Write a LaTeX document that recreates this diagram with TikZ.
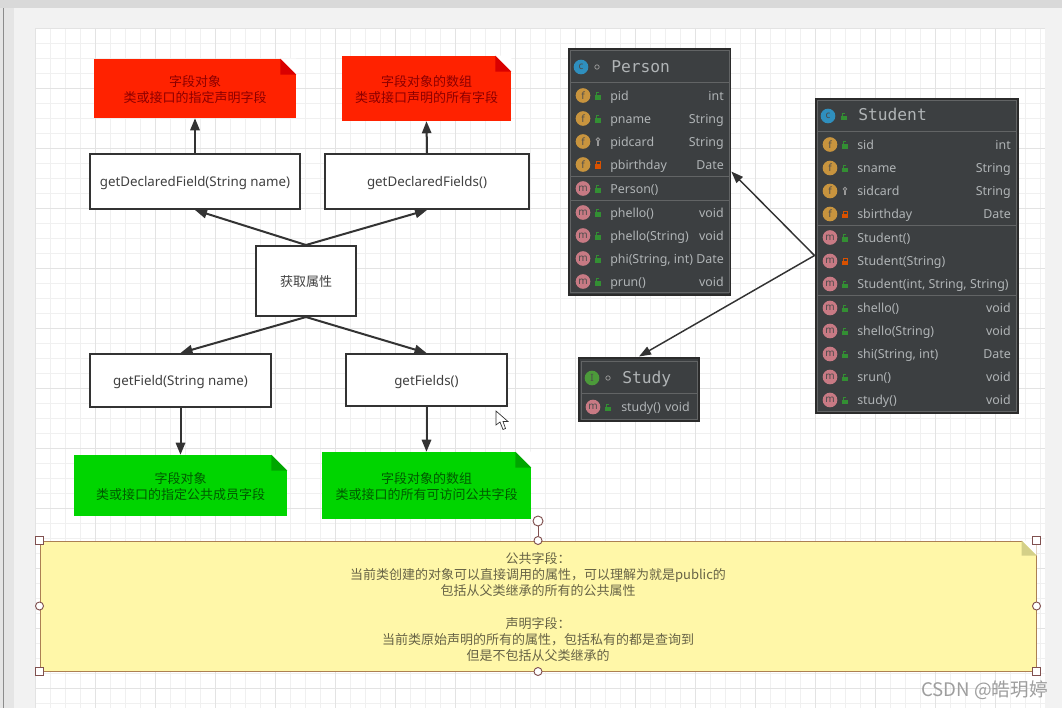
\documentclass[tikz,border=0pt]{standalone}
\usepackage{fontspec}
\setmainfont{Noto Sans}
\newfontfamily\cjk{Noto Sans CJK SC}
\newfontfamily\monotitle{DejaVu Sans Mono}
\usepackage{tikz}
\usetikzlibrary{arrows.meta}
\definecolor{umlbg}{RGB}{60,63,65}
\definecolor{umledge}{RGB}{43,43,43}
\definecolor{umlline}{RGB}{98,100,101}
\definecolor{umltext}{RGB}{176,180,182}
\definecolor{iconf}{RGB}{200,148,62}
\definecolor{iconm}{RGB}{200,122,132}
\definecolor{iconc}{RGB}{47,143,190}
\definecolor{iconi}{RGB}{76,154,58}
\definecolor{linkgray}{RGB}{51,51,51}
\definecolor{rednote}{RGB}{255,34,0}
\definecolor{greennote}{RGB}{0,213,0}
\definecolor{yellownote}{RGB}{255,247,168}
\definecolor{handlecol}{RGB}{128,80,79}
\tikzset{
    flowbox/.style={draw=linkgray, line width=1.5pt, fill=white, text=black!75, text height=8pt, text depth=0pt, font=\fontsize{10}{12}\selectfont},
    notebox/.style={align=center, font=\cjk\fontsize{9.75}{12}\selectfont, inner sep=0pt},
    link/.style={draw=linkgray, line width=1.5pt, -{Triangle[length=9pt,width=7pt]}},
    umllink/.style={draw=linkgray, line width=1.1pt, -{Triangle[length=9pt,width=6.5pt]}},
    classbox/.style={draw=umledge, fill=umlbg, line width=1.5pt, inner sep=0pt},
    classtitle/.style={text=umltext, anchor=west, font=\monotitle\fontsize{12.2}{14}\selectfont, inner sep=0pt, text height=9.5pt, text depth=2pt},
    rowicon/.style={circle, minimum size=11pt, inner sep=0pt, font=\fontsize{7.5}{8}\selectfont, text=black!70},
    rowtext/.style={text=umltext, font=\fontsize{9.3}{11}\selectfont, inner sep=0pt, text height=8pt, text depth=1.2pt},
    sepline/.style={draw=umlline, line width=0.75pt},
    handleround/.style={circle, draw=handlecol, fill=white, line width=0.7pt, minimum size=6pt, inner sep=0pt},
    handlesquare/.style={rectangle, draw=handlecol, fill=white, line width=0.7pt, minimum size=6pt, inner sep=0pt},
    pics/pub/.style={code={
        \fill[green!45!black!80] (-3,-0.5) rectangle (3,4);
        \draw[green!45!black!80, line width=0.7pt] (-2,-0.5) -- (-2,-3) -- (0.5,-3);
    }},
    pics/priv/.style={code={
        \fill[orange!75!red!85!black] (-3.2,-0.5) rectangle (3.2,4);
        \draw[orange!75!red!85!black, line width=0.7pt] (-2,-0.5) -- (-2,-3) -- (2,-3) -- (2,-0.5);
    }},
    pics/pack/.style={code={
        \draw[gray!80, line width=0.7pt] (0,-2) circle (1.7);
        \draw[gray!80, line width=0.9pt] (0,-0.3) -- (0,4);
    }},
    pics/ring/.style={code={
        \draw[gray!85, line width=0.6pt] (0,0) circle (2.2);
    }},
}
% one block of rows: prefix, icon x, text x, right x, list
\newcommand{\umlrows}[5]{%
    \foreach \yy/\kk/\vv/\nm/\ty [count=\i] in {#5} {
        \node[rowicon, fill=icon\kk] (#1icon\i) at (#2,\yy) {\kk};
        \pic at (#2+15,\yy) {\vv};
        \node[rowtext, anchor=west] (#1name\i) at (#3,\yy) {\nm};
        \node[rowtext, anchor=east] (#1type\i) at (#4,\yy) {\ty};
    }%
}
\begin{document}
\begin{tikzpicture}[x=0.75pt,y=-0.75pt]
    \useasboundingbox (0,0) rectangle (1062,708);

    % Window and canvas
    \fill[black!15] (0,0) rectangle (1062,8);
    \fill[black!10] (0,8) rectangle (14,708);
    \fill[black!45] (2.5,8) rectangle (3.5,708);
    \fill[black!5] (14,8) rectangle (1062,708);
    \fill[white] (35,28) rectangle (1045,708);
    \foreach \gx in {35,50,...,1045}
        \draw[black!6, line width=0.75pt] (\gx,28) -- (\gx,708);
    \foreach \gy in {28,43,...,708}
        \draw[black!6, line width=0.75pt] (35,\gy) -- (1045,\gy);
    \foreach \gx in {35,95,...,1045}
        \draw[black!11, line width=0.75pt] (\gx,28) -- (\gx,708);
    \foreach \gy in {28,88,...,708}
        \draw[black!11, line width=0.75pt] (35,\gy) -- (1045,\gy);

    % Method boxes
    \node[flowbox, minimum width=157.5pt, minimum height=41.25pt] (declfield) at (195,181.5) {getDeclaredField(String name)};
    \node[flowbox, minimum width=153pt, minimum height=41.25pt] (declfields) at (427,181.5) {getDeclaredFields()};
    \node[flowbox, minimum width=75pt, minimum height=52.5pt, font=\cjk\fontsize{9.75}{12}\selectfont] (getattr) at (306,281) {获取属性};
    \node[flowbox, minimum width=135.75pt, minimum height=39.75pt] (pubfield) at (180.5,380.5) {getField(String name)};
    \node[flowbox, minimum width=120.75pt, minimum height=39pt] (pubfields) at (426.5,380) {getFields()};

    % Red notes
    \node[notebox, fill=rednote, text=red!55!black, minimum width=151.5pt, minimum height=44.25pt] (rednoteone) at (195,88.5) {\rule{0pt}{10pt}字段对象\\类或接口的指定声明字段};
    \fill[white] (rednoteone.north east) -- ++(-16,0) -- ++(16,16) -- cycle;
    \fill[red!85!black] (rednoteone.north east) ++(-16,0) -- ++(16,16) -- ++(-16,0) -- cycle;
    \node[notebox, fill=rednote, text=red!55!black, minimum width=126.75pt, minimum height=48.75pt] (rednotetwo) at (426.5,88.5) {\rule{0pt}{10pt}字段对象的数组\\类或接口声明的所有字段};
    \fill[white] (rednotetwo.north east) -- ++(-16,0) -- ++(16,16) -- cycle;
    \fill[red!85!black] (rednotetwo.north east) ++(-16,0) -- ++(16,16) -- ++(-16,0) -- cycle;

    % Green notes
    \node[notebox, fill=greennote, text=green!35!black, minimum width=159.75pt, minimum height=45.75pt] (greennoteone) at (180.5,485.5) {\rule{0pt}{10pt}字段对象\\类或接口的指定公共成员字段};
    \fill[white] (greennoteone.north east) -- ++(-16,0) -- ++(16,16) -- cycle;
    \fill[green!65!black] (greennoteone.north east) ++(-16,0) -- ++(16,16) -- ++(-16,0) -- cycle;
    \node[notebox, fill=greennote, text=green!35!black, minimum width=156.75pt, minimum height=50.25pt] (greennotetwo) at (426.5,485.5) {\rule{0pt}{10pt}字段对象的数组\\类或接口的所有可访问公共字段};
    \fill[white] (greennotetwo.north east) -- ++(-16,0) -- ++(16,16) -- cycle;
    \fill[green!65!black] (greennotetwo.north east) ++(-16,0) -- ++(16,16) -- ++(-16,0) -- cycle;

    % Flow arrows
    \draw[link] (getattr.north) -- (declfield.south);
    \draw[link] (getattr.north) -- (declfields.south);
    \draw[link] (getattr.south) -- (pubfield.north);
    \draw[link] (getattr.south) -- (pubfields.north);
    \draw[link] (declfield.north) -- (rednoteone.south);
    \draw[link] (declfields.north) -- (rednotetwo.south);
    \draw[link] (pubfield.south) -- (greennoteone.north);
    \draw[link] (pubfields.south) -- (greennotetwo.north);

    % Person class
    \node[classbox, minimum width=120.75pt, minimum height=184.5pt] (person) at (649.75,171.5) {};
    \draw[sepline] (570.5,50.5) rectangle (729.5,292.5);
    \draw[sepline] (571,82) -- (729,82);
    \draw[sepline] (571,176) -- (729,176);
    \draw[sepline] (571,200) -- (729,200);
    \node[rowicon, fill=iconc] (personicon) at (581,67) {c};
    \pic at (597,67) {ring};
    \node[classtitle] (persontitle) at (611,67) {Person};
    \umlrows{p}{583}{610}{724}{95.5/f/pub/pid/int, 118.5/f/pub/pname/String, 141.5/f/pack/pidcard/String, 164.5/f/priv/pbirthday/Date, 188.5/m/pub/Person()/{}, 212.5/m/pub/phello()/void, 235.5/m/pub/phello(String)/void, 258.5/m/pub/{phi(String, int)}/Date, 281.5/m/pub/prun()/void}

    % Student class
    \node[classbox, minimum width=151.5pt, minimum height=235.5pt] (student) at (916.5,255.5) {};
    \draw[sepline] (817.5,100.5) rectangle (1016,411);
    \draw[sepline] (818,131) -- (1015.5,131);
    \draw[sepline] (818,225) -- (1015.5,225);
    \draw[sepline] (818,295) -- (1015.5,295);
    \node[rowicon, fill=iconc] (studenticon) at (828,116) {c};
    \pic at (844,116) {pub};
    \node[classtitle] (studenttitle) at (858,115.5) {Student};
    \umlrows{s}{830}{857}{1011}{144.5/f/pub/sid/int, 168/f/pub/sname/String, 191/f/pack/sidcard/String, 214/f/priv/sbirthday/Date, 237.5/m/pub/Student()/{}, 261/m/priv/Student(String)/{}, 284/m/pub/{Student(int, String, String)}/{}, 308/m/pub/shello()/void, 331/m/pub/shello(String)/void, 354/m/pub/{shi(String, int)}/Date, 377/m/pub/srun()/void, 400/m/pub/study()/void}

    % Study interface
    \node[classbox, minimum width=90pt, minimum height=47.25pt] (study) at (639,389) {};
    \draw[sepline] (581,361) rectangle (697,419);
    \draw[sepline] (581.5,393) -- (696.5,393);
    \node[rowicon, fill=iconi] (studyicon) at (592,378) {I};
    \pic at (608,378) {ring};
    \node[classtitle] (studytitle) at (622,378) {Study};
    \umlrows{i}{593}{621}{690}{407/m/pub/study()/void}

    % Class arrows
    \draw[umllink] (student.west) -- (person.east);
    \draw[umllink] (student.west) -- (study.north);

    % Mouse pointer
    \draw[fill=white, draw=linkgray, line width=0.5pt] (496,411) -- (496,425) -- (500,422) -- (503,429.5) -- (505.5,428.5) -- (503,421.5) -- (508,421.5) -- cycle;

    % Yellow note with selection handles
    \node[notebox, draw=brown!70!gray, line width=0.75pt, fill=yellownote, text=black!65!yellow!90!black, minimum width=747pt, minimum height=97.5pt] (infonote) at (538,606) {\rule{0pt}{10pt}公共字段：\\当前类创建的对象可以直接调用的属性，可以理解为就是public的\\包括从父类继承的所有的公共属性\\~\\[0.75pt]声明字段：\\当前类原始声明的所有的属性，包括私有的都是查询到\\但是不包括从父类继承的};
    \fill[white] (infonote.north east) -- ++(-15,0) -- ++(15,15) -- cycle;
    \fill[yellow!65!black!55!white] (infonote.north east) ++(-15,0) -- ++(15,15) -- ++(-15,0) -- cycle;
    \node[handlesquare] (handlenw) at (infonote.north west) {};
    \node[handlesquare] (handlene) at (infonote.north east) {};
    \node[handlesquare] (handlesw) at (infonote.south west) {};
    \node[handlesquare] (handlese) at (infonote.south east) {};
    \node[handleround] (handlen) at (infonote.north) {};
    \node[handleround] (handles) at (infonote.south) {};
    \node[handleround] (handlew) at (infonote.west) {};
    \node[handleround] (handlee) at (infonote.east) {};
    \node[handleround, minimum size=7.5pt] (handlerot) at (538,521) {};
    \draw[handlecol, line width=0.7pt] (handlerot) -- (handlen);

    % Watermark
    \node[text=black!38, font=\cjk\fontsize{14}{16}\selectfont, inner sep=0pt, anchor=east] (mark) at (1048,690) {CSDN @皓玥婷};
\end{tikzpicture}
\end{document}
